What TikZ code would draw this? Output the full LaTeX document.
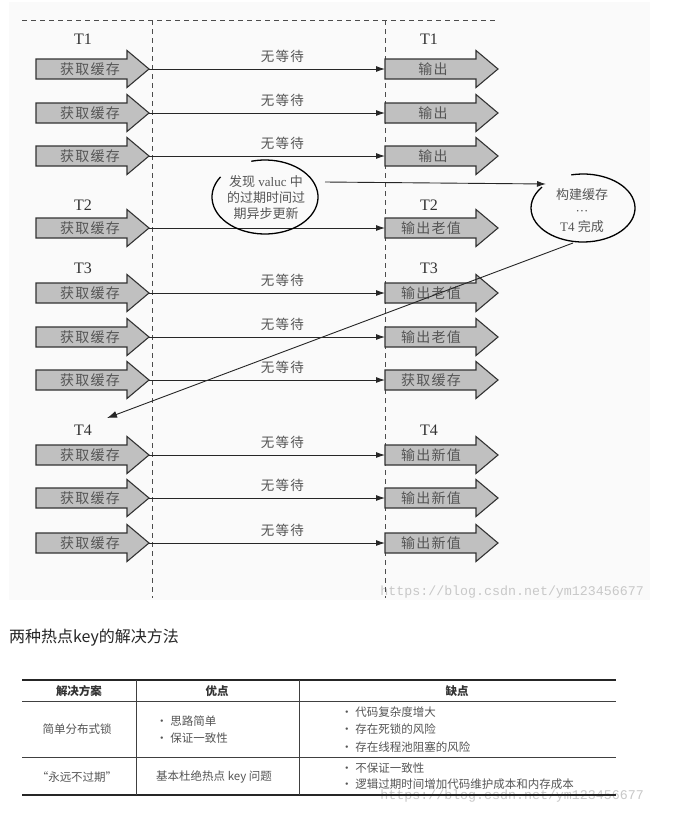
\documentclass[tikz,border=0pt]{standalone}
\usepackage{fontspec}
\setmainfont{Liberation Serif}
\newfontfamily\cjk{Noto Sans CJK SC}
\newfontfamily\cjkwide[LetterSpace=9]{Noto Sans CJK SC}
\newfontfamily\wmfont{Liberation Mono}
\usetikzlibrary{arrows.meta}
\definecolor{arrowfill}{HTML}{C0C0C0}
\definecolor{arrowline}{HTML}{333333}
\definecolor{txtgray}{HTML}{555555}
\definecolor{panel}{HTML}{FAFAFA}
\definecolor{wmgray}{HTML}{C8C8C8}
\tikzset{
  blkarrow/.style={fill=arrowfill, draw=arrowline, line width=1.1pt, line join=miter},
  blktext/.style={font=\cjkwide\fontsize{14}{14}\selectfont, text=txtgray, inner sep=0pt},
  conn/.style={draw=black!85, line width=0.9pt, -{Latex[length=9pt,width=6pt]}},
  waitlbl/.style={font=\cjkwide\fontsize{13.5}{14}\selectfont, text=txtgray, inner sep=0pt, pos=0.565, yshift=13pt},
  tlbl/.style={font=\fontsize{16}{16}\selectfont, text=black!80, inner sep=0pt},
  guide/.style={draw=black!70, dash pattern=on 5pt off 4pt, line width=0.8pt},
  bubble/.style={draw=black, line width=1.3pt},
  bubtext/.style={font=\fontsize{13}{16}\selectfont, text=txtgray, align=center, inner sep=0pt},
  tbltext/.style={font=\cjk\fontsize{11.5}{12}\selectfont, text=txtgray, inner sep=0pt},
  tblhead/.style={font=\cjk\bfseries\fontsize{11.5}{12}\selectfont, text=black!80, inner sep=0pt},
  thickrule/.style={draw=black!85, line width=2.2pt},
  thinrule/.style={draw=black!75, line width=0.9pt},
  wmark/.style={font=\wmfont\fontsize{13.3}{14}\selectfont, text=wmgray, inner sep=0pt},
}
\newcommand\blockarrow[5]{%
  \draw[blkarrow] (#2,#3-10) -- (#2+91,#3-10) -- (#2+91,#3-18.5) -- (#2+113,#3)
     -- (#2+91,#3+18.5) -- (#2+91,#3+10) -- (#2,#3+10) -- cycle;
  \node[blktext] (#1) at (#2+#5,#3) {#4};
  \coordinate (#1-tip) at (#2+113,#3);
  \coordinate (#1-in) at (#2,#3);
}
\begin{document}
\begin{tikzpicture}[x=1pt,y=-1pt]
\useasboundingbox (0,0) rectangle (677,817);
\fill[white] (0,0) rectangle (677,817);
\fill[panel] (9,2) rectangle (650,600);

% watermark (top panel)
\node[wmark, anchor=east] (wm1) at (644,592) {https://blog.csdn.net/ym123456677};

% guides
\draw[guide] (22,20) -- (498,20);
\draw[guide] (152,20) -- (152,598);
\draw[guide] (385,20) -- (385,598);

% T labels
\node[tlbl] (tl1) at (83,39) {T1};
\node[tlbl] (tr1) at (429,39) {T1};
\node[tlbl] (tl2) at (83,205) {T2};
\node[tlbl] (tr2) at (429,205) {T2};
\node[tlbl] (tl3) at (83,268) {T3};
\node[tlbl] (tr3) at (429,268) {T3};
\node[tlbl] (tl4) at (83,430) {T4};
\node[tlbl] (tr4) at (429,430) {T4};

% rows
\blockarrow{L1}{36}{69}{获取缓存}{54}
\blockarrow{R1}{385}{69}{输出}{48}
\blockarrow{L2}{36}{113}{获取缓存}{54}
\blockarrow{R2}{385}{113}{输出}{48}
\blockarrow{L3}{36}{156}{获取缓存}{54}
\blockarrow{R3}{385}{156}{输出}{48}
\blockarrow{L4}{36}{228}{获取缓存}{54}
\blockarrow{R4}{385}{228}{输出老值}{46}
\blockarrow{L5}{36}{293}{获取缓存}{54}
\blockarrow{R5}{385}{293}{输出老值}{46}
\blockarrow{L6}{36}{337}{获取缓存}{54}
\blockarrow{R6}{385}{337}{输出老值}{46}
\blockarrow{L7}{36}{380}{获取缓存}{54}
\blockarrow{R7}{385}{380}{获取缓存}{46}
\blockarrow{L8}{36}{455}{获取缓存}{54}
\blockarrow{R8}{385}{455}{输出新值}{46}
\blockarrow{L9}{36}{498}{获取缓存}{54}
\blockarrow{R9}{385}{498}{输出新值}{46}
\blockarrow{L10}{36}{543}{获取缓存}{54}
\blockarrow{R10}{385}{543}{输出新值}{46}

\draw[conn] (L1-tip) -- node[waitlbl] (w1) {无等待} (R1-in);
\draw[conn] (L2-tip) -- node[waitlbl] (w2) {无等待} (R2-in);
\draw[conn] (L3-tip) -- node[waitlbl] (w3) {无等待} (R3-in);
\draw[conn] (L4-tip) -- (R4-in);
\draw[conn] (L5-tip) -- node[waitlbl] (w5) {无等待} (R5-in);
\draw[conn] (L6-tip) -- node[waitlbl] (w6) {无等待} (R6-in);
\draw[conn] (L7-tip) -- node[waitlbl] (w7) {无等待} (R7-in);
\draw[conn] (L8-tip) -- node[waitlbl] (w8) {无等待} (R8-in);
\draw[conn] (L9-tip) -- node[waitlbl] (w9) {无等待} (R9-in);
\draw[conn] (L10-tip) -- node[waitlbl] (w10) {无等待} (R10-in);

% bubble 1
\node[bubtext] (b1) at (266,197.5) {{\cjk 发现} valuc {\cjk 中}\\{\cjk 的过期时间过}\\{\cjk 期异步更新}};
\draw[bubble] (265,197) ++(255:53 and 37) arc[start angle=255, end angle=573, x radius=53, y radius=37];
\coordinate (b1-out) at (325,182);

% bubble 2
\node[bubtext] (b2) at (582,211) {{\cjk 构建缓存}\\···\\T4 {\cjk 完成}};
\draw[bubble] (583,208) ++(257:52 and 34) arc[start angle=257, end angle=578, x radius=52, y radius=34];
\coordinate (b2-in) at (546,184);
\coordinate (b2-out) at (573,243);
\coordinate (t4-target) at (107,418);

\draw[conn] (b1-out) -- (b2-in);
\draw[conn, -{Latex[length=10pt,width=7pt]}] (b2-out) -- (t4-target);

% title
\node[font=\cjk\fontsize{16}{18}\selectfont, text=black!85, anchor=west, inner sep=0pt] (title) at (9,638) {两种热点key的解决方法};

% table watermark
\node[wmark, anchor=east] (wm2) at (644,796) {https://blog.csdn.net/ym123456677};

% table rules
\draw[thickrule] (22,680) -- (616,680);
\draw[thinrule] (22,701) -- (616,701);
\draw[thinrule] (22,757) -- (616,757);
\draw[thickrule] (22,795) -- (616,795);
\draw[thinrule] (136,680) -- (136,795);
\draw[thinrule] (299,680) -- (299,795);

% header
\node[tblhead] (h1) at (79,691) {解决方案};
\node[tblhead] (h2) at (217,691) {优点};
\node[tblhead] (h3) at (457,691) {缺点};

% row 1
\node[tbltext] (r1c1) at (77,729) {简单分布式锁};
\node[tbltext, anchor=west] (r1c2a) at (156,721) {• 思路简单};
\node[tbltext, anchor=west] (r1c2b) at (156,738) {• 保证一致性};
\node[tbltext, anchor=west] (r1c3a) at (341,712) {• 代码复杂度增大};
\node[tbltext, anchor=west] (r1c3b) at (341,729) {• 存在死锁的风险};
\node[tbltext, anchor=west] (r1c3c) at (341,747) {• 存在线程池阻塞的风险};

% row 2
\node[tbltext] (r2c1) at (77,777) {“永远不过期”};
\node[tbltext, anchor=west] (r2c2) at (156,777) {基本杜绝热点 key 问题};
\node[tbltext, anchor=west] (r2c3a) at (341,768) {• 不保证一致性};
\node[tbltext, anchor=west] (r2c3b) at (341,784) {• 逻辑过期时间增加代码维护成本和内存成本};
\end{tikzpicture}
\end{document}
